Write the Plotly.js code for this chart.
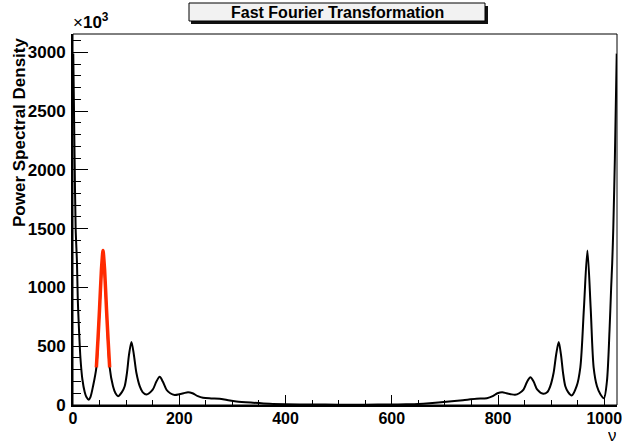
<!DOCTYPE html>
<html>
<head>
<meta charset="utf-8">
<script src="https://cdn.plot.ly/plotly-3.0.1.min.js"></script>
<style>html,body{margin:0;padding:0;background:#fff;}#plot{width:622px;height:441px;}</style>
</head>
<body>
<div id="plot"></div>
<script>
// Frequency (bin) and power spectral density (in units of 10^3)
const freq = [0.5, 3, 5, 7.5, 9, 11.3, 14, 17.7, 22, 25, 29.6, 33, 37.7, 44, 50, 56.5, 63, 69, 75.3, 80, 84.7,
  92, 97.3, 101.6, 105.5, 110, 114.5, 119.3, 125.6, 131, 138.2,
  150, 157, 163.2, 169, 176, 183, 191.4,
  200, 208, 216.5, 225, 235, 244.7, 260, 276, 290, 307.5, 339, 370, 400, 450, 500, 550, 600, 627, 650, 671, 703, 734, 759, 779,
  790, 799, 808, 816, 824, 832,
  840, 848, 855, 861, 867, 874, 885,
  893, 898.4, 904.7, 909.5, 914.3, 918.5, 922.4, 926.7, 932, 938.7,
  948, 955, 961.7, 968.3, 974.5, 980, 986.3, 993, 999.5, 1005, 1010, 1013, 1015, 1017, 1020, 1023.5];
const psd = [2990, 2100, 1500, 1210, 900, 642, 400, 217, 110, 70, 45, 70, 160, 321, 820, 1314, 820, 321, 160, 100, 75,
  110, 160, 274, 430, 537, 430, 274, 160, 110, 89,
  130, 200, 240, 200, 130, 100, 86,
  92, 100, 109, 100, 75, 61, 56, 53, 42, 30, 19, 10, 6, 4, 3, 3, 4, 6, 9, 15, 27, 41, 53, 58,
  75, 100, 109, 100, 92, 87,
  100, 130, 200, 237, 200, 130, 95,
  110, 160, 274, 430, 537, 430, 274, 160, 110, 81,
  160, 321, 820, 1314, 820, 321, 160, 90, 58, 200, 642, 1000, 1210, 1500, 2100, 2990];
// Fit curve (red) around the first peak
const fitFreq = [44, 47, 50, 53.5, 56.5, 59.5, 63, 66, 69];
const fitPsd = [321, 560, 820, 1150, 1314, 1150, 820, 560, 321];

const xTicks = [0, 200, 400, 600, 800, 1000];
const yTicks = [0, 500, 1000, 1500, 2000, 2500, 3000];

const FONT = 'Liberation Sans, Arial, Helvetica, sans-serif';
const W = 622, H = 441, L = 73, R = 5, T = 34, B = 36;
const PW = W - L - R, PH = H - T - B;
const px = x => (x - L) / PW;
const py = y => (H - B - y) / PH;

const traces = [
  {x: freq, y: psd, type: 'scatter', mode: 'lines',
   line: {color: '#000', width: 2, shape: 'spline', smoothing: 0.8}, hoverinfo: 'skip'},
  {x: fitFreq, y: fitPsd, type: 'scatter', mode: 'lines',
   line: {color: '#ff2a00', width: 3.5, shape: 'spline', smoothing: 0.6}, hoverinfo: 'skip'}
];

const layout = {
  width: W, height: H,
  margin: {l: L, r: R, t: T, b: B, pad: 0},
  paper_bgcolor: '#fff', plot_bgcolor: '#fff',
  showlegend: false,
  font: {family: FONT, color: '#000'},
  xaxis: {
    range: [0, 1024], showgrid: false, zeroline: false,
    showline: true, linecolor: '#000', linewidth: 2,
    ticks: 'inside', ticklen: 10, tickwidth: 1, tickcolor: '#000',
    tickvals: xTicks, ticktext: xTicks.map(String),
    tickfont: {family: FONT, size: 16, color: '#000', weight: 'bold'},
    ticklabeloverflow: 'allow', ticklabelstandoff: -2,
    minor: {dtick: 50, tick0: 0, ticks: 'inside', ticklen: 5, tickwidth: 1, tickcolor: '#000'}
  },
  yaxis: {
    range: [0, 3157], showgrid: false, zeroline: false,
    showline: true, linecolor: '#000', linewidth: 2,
    ticks: 'inside', ticklen: 15, tickwidth: 1, tickcolor: '#000',
    tickvals: yTicks, ticktext: yTicks.map(String),
    tickfont: {family: FONT, size: 17, color: '#000', weight: 'bold'},
    ticklabelstandoff: 2,
    minor: {dtick: 100, tick0: 0, ticks: 'inside', ticklen: 8, tickwidth: 1, tickcolor: '#000'}
  },
  shapes: [
    {type: 'rect', xref: 'paper', yref: 'paper', x0: 0, x1: 1, y0: 0, y1: 1,
     line: {color: '#000', width: 1}, fillcolor: 'rgba(0,0,0,0)'},
    {type: 'rect', xref: 'paper', yref: 'paper', x0: px(191), x1: px(488), y0: py(24), y1: py(6),
     line: {width: 0}, fillcolor: '#111'},
    {type: 'rect', xref: 'paper', yref: 'paper', x0: px(189), x1: px(485), y0: py(21), y1: py(3),
     line: {color: '#000', width: 1}, fillcolor: '#f2f2f2'}
  ],
  annotations: [
    {text: '<b>Fast Fourier Transformation</b>', xref: 'paper', yref: 'paper',
     x: px(337), y: py(12.5), xanchor: 'center', yanchor: 'middle', showarrow: false,
     font: {family: FONT, size: 16, color: '#000'}},
    {text: '<b>Power Spectral Density</b>', xref: 'paper', yref: 'paper', textangle: -90,
     x: px(19), y: py(35), xanchor: 'center', yanchor: 'top', showarrow: false,
     font: {family: FONT, size: 17, color: '#000'}},
    {text: '×<b>10<sup>3</sup></b>', xref: 'paper', yref: 'paper',
     x: px(71), y: py(34), xanchor: 'left', yanchor: 'bottom', showarrow: false,
     font: {family: FONT, size: 17, color: '#000'}},
    {text: 'ν', xref: 'paper', yref: 'paper',
     x: px(612), y: py(434.5), xanchor: 'center', yanchor: 'middle', showarrow: false,
     height: 12, valign: 'middle',
     font: {family: FONT, size: 17, color: '#000'}}
  ]
};

Plotly.newPlot('plot', traces, layout, {staticPlot: true, displayModeBar: false});
</script>
</body>
</html>
